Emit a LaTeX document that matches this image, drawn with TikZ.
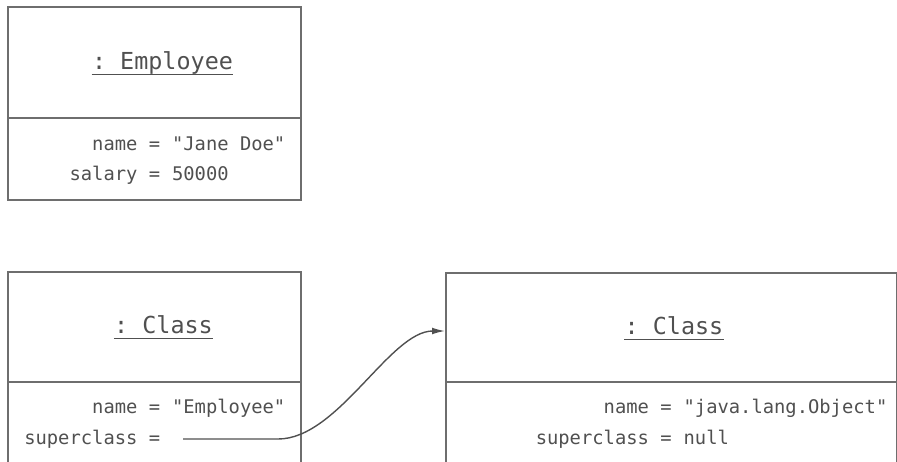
\documentclass[tikz,border=0pt]{standalone}
\usepackage{fontspec}
\setmonofont{DejaVu Sans Mono}
\usepackage{tikz}
\usetikzlibrary{arrows.meta, positioning}
\definecolor{boxgray}{RGB}{110,110,110}
\definecolor{textgray}{RGB}{80,80,80}

\begin{document}
\begin{tikzpicture}[
  x=0.5pt, y=-0.5pt,
  objbox/.style={draw=boxgray, line width=1pt, anchor=north west, inner sep=0pt},
  divider/.style={draw=boxgray, line width=0.9pt},
  title/.style={font=\ttfamily\fontsize{11.7}{14}\selectfont, text=textgray, inner sep=0pt, anchor=base},
  uline/.style={draw=textgray, line width=0.6pt},
  attr/.style={font=\ttfamily\fontsize{9.4}{11}\selectfont, text=textgray, inner sep=0pt},
  arr/.style={-{Latex[length=6.5pt, width=3.4pt]}, line width=0.7pt, draw=textgray}
]
\clip (0,0) rectangle (897,461);

% Object 1: the Employee instance
\node[objbox, minimum width=146.5pt, minimum height=96.5pt] (O1) at (7,6) {};
\draw[divider] ([yshift=-56pt]O1.north west) -- ([yshift=-56pt]O1.north east);
\node[title] (T1) at (162.5,69) {: Employee};
\draw[uline] ([yshift=-2.6pt]T1.base west) -- ([yshift=-2.6pt]T1.base east);
\node[attr, anchor=base east] (A1) at (160.5,150) {name =};
\node[attr, base right=5.6pt of A1] (V1) {"Jane Doe"};
\node[attr, anchor=base east] (B1) at (160.5,180) {salary =};
\node[attr, base right=5.6pt of B1] (W1) {50000};

% Object 2: Class of Employee
\node[objbox, minimum width=146.5pt, minimum height=110pt] (O2) at (7,271) {};
\draw[divider] ([yshift=-55.5pt]O2.north west) -- ([yshift=-55.5pt]O2.north east);
\node[title] (T2) at (163.5,333) {: Class};
\draw[uline] ([yshift=-2.6pt]T2.base west) -- ([yshift=-2.6pt]T2.base east);
\node[attr, anchor=base east] (A2) at (160.5,413) {name =};
\node[attr, base right=5.6pt of A2] (V2) {"Employee"};
\node[attr, anchor=base east] (B2) at (160.5,444) {superclass =};
\coordinate (sup) at ([xshift=11.3pt, yshift=2.5pt]B2.base east);

% Object 3: Class of java.lang.Object
\node[objbox, minimum width=225.5pt, minimum height=110pt] (O3) at (445,272) {};
\draw[divider] ([yshift=-55pt]O3.north west) -- ([yshift=-55pt]O3.north east);
\node[title] (T3) at (674,334) {: Class};
\draw[uline] ([yshift=-2.6pt]T3.base west) -- ([yshift=-2.6pt]T3.base east);
\node[attr, anchor=base east] (A3) at (672,413) {name =};
\node[attr, base right=5.6pt of A3] (V3) {"java.lang.Object"};
\node[attr, anchor=base east] (B3) at (672,444) {superclass =};
\node[attr, base right=5.6pt of B3] (W3) {null};

% superclass link
\draw[arr] (sup) -- ++(95,0) .. controls +(60,0) and +(-55,0) .. ([yshift=-29.5pt]O3.north west);

\end{tikzpicture}
\end{document}
